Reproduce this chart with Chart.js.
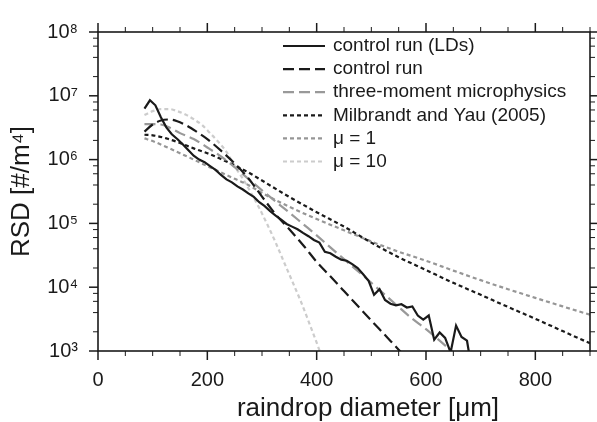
<!DOCTYPE html>
<html>
<head>
<meta charset="utf-8">
<script src="https://cdn.jsdelivr.net/npm/chart.js@4.4.0/dist/chart.umd.min.js"></script>
<style>
  html, body { margin: 0; padding: 0; background: #fff; }
</style>
</head>
<body>
<canvas id="myChart" width="597" height="422"></canvas>
<script>
// raindrop diameter [um] and RSD [#/m^4]
const ldsDiam = [85, 95, 105, 115, 125, 135, 145, 155, 165, 175, 185, 195, 205, 215, 225, 235, 245, 255, 265, 275,
  285, 295, 305, 315, 325, 335, 345, 355, 365, 375, 385, 395, 405, 415, 425, 435, 445, 455, 465, 475,
  485, 495, 505, 515, 525, 535, 545, 555, 565, 575, 585, 595, 605, 615, 625, 635, 645, 655, 665, 675, 680];
const ldsRsd = [6.3e6, 8.5e6, 7.1e6, 4.6e6, 3.2e6, 2.5e6, 2.1e6, 1.74e6, 1.41e6, 1.15e6, 1.0e6, 9.1e5, 7.9e5, 6.9e5, 5.75e5, 4.9e5, 4.4e5, 3.8e5, 3.4e5, 2.95e5,
  2.6e5, 2.15e5, 1.86e5, 1.55e5, 1.32e5, 1.15e5, 9.8e4, 8.9e4, 8.1e4, 7.1e4, 6.3e4, 5.5e4, 5.0e4, 3.6e4, 3.4e4, 3.0e4, 2.7e4, 2.6e4, 2.3e4, 2.0e4,
  1.6e4, 1.26e4, 7.6e3, 9.3e3, 6.3e3, 5.5e3, 5.2e3, 5.4e3, 4.8e3, 5.0e3, 3.6e3, 3.1e3, 3.6e3, 1.5e3, 1.95e3, 1.6e3, 9.5e2, 2.5e3, 1.66e3, 1.45e3, 8e2];

const ctrlDiam = [85, 100, 115, 130, 145, 160, 180, 200, 225, 250, 275, 300, 325, 350, 375, 400, 425, 450, 475, 500, 525, 550, 575];
const ctrlRsd = [2.75e6, 3.55e6, 4.1e6, 4.25e6, 4.0e6, 3.5e6, 2.75e6, 2.1e6, 1.38e6, 8.7e5, 5.1e5, 2.63e5, 1.38e5, 8.1e4, 4.6e4, 2.5e4, 1.48e4, 8.7e3, 5.1e3, 3.0e3, 1.78e3, 1.05e3, 6.3e2];

const threeDiam = [85, 100, 115, 130, 150, 175, 200, 225, 250, 275, 300, 325, 350, 375, 400, 425, 450, 475, 500, 525, 550, 575, 600, 625, 650];
const threeRsd = [3.6e6, 3.6e6, 3.55e6, 3.2e6, 2.6e6, 2.1e6, 1.55e6, 1.12e6, 7.6e5, 5.0e5, 3.3e5, 2.2e5, 1.48e5, 9.8e4, 6.5e4, 4.2e4, 2.75e4, 1.8e4, 1.17e4, 7.6e3, 4.9e3, 3.2e3, 2.2e3, 1.45e3, 9.5e2];

const myDiam = [85, 100, 125, 150, 175, 200, 225, 250, 275, 300, 350, 400, 450, 500, 550, 600, 650, 700, 750, 800, 850, 900];
const myRsd = [2.45e6, 2.4e6, 2.15e6, 1.82e6, 1.5e6, 1.26e6, 1.02e6, 8.1e5, 6.3e5, 4.7e5, 2.6e5, 1.5e5, 8.9e4, 5.0e4, 2.95e4, 1.86e4, 1.17e4, 7.6e3, 4.9e3, 3.2e3, 2.05e3, 1.32e3];

const mu1Diam = [85, 100, 125, 150, 175, 200, 225, 250, 275, 300, 350, 400, 450, 500, 550, 600, 650, 700, 750, 800, 850, 900];
const mu1Rsd = [2.15e6, 1.95e6, 1.58e6, 1.26e6, 1.0e6, 7.9e5, 6.3e5, 5.0e5, 4.0e5, 3.0e5, 1.82e5, 1.17e5, 7.8e4, 5.2e4, 3.6e4, 2.6e4, 1.82e4, 1.29e4, 9.3e3, 6.8e3, 5.0e3, 3.7e3];

const mu10Diam = [85, 100, 115, 130, 145, 160, 175, 190, 205, 220, 235, 250, 265, 280, 295, 310, 325, 340, 355, 370, 385, 400, 415];
const mu10Rsd = [5.0e6, 5.75e6, 6.2e6, 6.2e6, 5.75e6, 5.1e6, 4.3e6, 3.5e6, 2.6e6, 1.9e6, 1.32e6, 7.9e5, 5.0e5, 3.0e5, 1.74e5, 9.5e4, 5.0e4, 2.5e4, 1.26e4, 6.3e3, 2.95e3, 1.35e3, 6.0e2];

const xTickVals = [0, 200, 400, 600, 800];
const yExponents = [3, 4, 5, 6, 7, 8];
const seriesLabels = ['control run (LDs)', 'control run', 'three-moment microphysics', 'Milbrandt and Yau (2005)', 'μ = 1', 'μ = 10'];
const xTitle = 'raindrop diameter [μm]';

const FONT = "'Liberation Sans', Arial, Helvetica, sans-serif";
const sup = { 3: '³', 4: '⁴', 5: '⁵', 6: '⁶', 7: '⁷', 8: '⁸' };

function pts(xs, ys) {
  return xs.map((v, i) => ({ x: v, y: ys[i] }));
}

function line(label, xs, ys, color, dash, smooth) {
  return {
    label: label,
    data: pts(xs, ys),
    borderColor: color,
    borderWidth: 2.2,
    borderDash: dash,
    pointRadius: 0,
    fill: false,
    cubicInterpolationMode: smooth ? 'monotone' : 'default',
    tension: 0
  };
}

// legend inside the plot, top right, plus the x axis title (sits a bit right of centre)
const legendBox = {
  id: 'legendBox',
  afterDraw(chart) {
    const ctx = chart.ctx;
    ctx.save();
    chart.data.datasets.forEach((ds, i) => {
      const y = 46 + i * 23.1;
      ctx.strokeStyle = ds.borderColor;
      ctx.lineWidth = 2.2;
      ctx.setLineDash(ds.borderDash || []);
      ctx.beginPath();
      ctx.moveTo(283, y);
      ctx.lineTo(325, y);
      ctx.stroke();
      ctx.setLineDash([]);
      ctx.fillStyle = '#1a1a1a';
      ctx.font = '19px ' + FONT;
      ctx.textBaseline = 'middle';
      ctx.textAlign = 'left';
      ctx.fillText(ds.label, 333, y);
    });
    ctx.font = '26px ' + FONT;
    ctx.textAlign = 'center';
    ctx.textBaseline = 'middle';
    ctx.fillText(xTitle, 368, 409);
    ctx.restore();
  }
};

// box around the plot, with outward ticks on all four sides
const frameTicks = {
  id: 'frameTicks',
  afterDraw(chart) {
    const ctx = chart.ctx;
    const a = chart.chartArea;
    const x = chart.scales.x, y = chart.scales.y;
    ctx.save();
    ctx.strokeStyle = '#1a1a1a';
    const seg = (x1, y1, x2, y2, w) => {
      ctx.lineWidth = w;
      ctx.beginPath(); ctx.moveTo(x1, y1); ctx.lineTo(x2, y2); ctx.stroke();
    };
    for (let v = 0; v <= 900; v += 50) {
      const px = x.getPixelForValue(v);
      const major = v % 200 === 0;
      const len = major ? 9 : 5;
      seg(px, a.bottom, px, a.bottom + len, major ? 1.5 : 1);
      seg(px, a.top, px, a.top - len, major ? 1.5 : 1);
    }
    yExponents.forEach(e => {
      [1, 2, 4, 6, 8].forEach(m => {
        if (e === 8 && m > 1) return;
        const py = y.getPixelForValue(m * Math.pow(10, e));
        const major = m === 1;
        const len = major ? 9 : 5;
        seg(a.left, py, a.left - len, py, major ? 1.5 : 1);
        seg(a.right, py, a.right + len, py, major ? 1.5 : 1);
      });
    });
    ctx.lineWidth = 1.6;
    ctx.strokeRect(a.left, a.top, a.right - a.left, a.bottom - a.top);
    ctx.restore();
  }
};

const config = {
  type: 'line',
  data: {
    datasets: [
      line(seriesLabels[0], ldsDiam, ldsRsd, '#1a1a1a', [], false),
      line(seriesLabels[1], ctrlDiam, ctrlRsd, '#1a1a1a', [11, 5], true),
      line(seriesLabels[2], threeDiam, threeRsd, '#999999', [11, 5], true),
      line(seriesLabels[3], myDiam, myRsd, '#1a1a1a', [4, 3], true),
      line(seriesLabels[4], mu1Diam, mu1Rsd, '#969696', [4, 3], true),
      line(seriesLabels[5], mu10Diam, mu10Rsd, '#cccccc', [4, 3], true)
    ]
  },
  options: {
    responsive: false,
    animation: false,
    devicePixelRatio: 1,
    layout: { padding: { top: 23, right: 7, left: 0, bottom: 0 } },
    plugins: {
      legend: { display: false },
      tooltip: { enabled: false }
    },
    scales: {
      x: {
        type: 'linear',
        min: 0,
        max: 900,
        grid: { display: false, drawTicks: false },
        border: { display: false },
        afterBuildTicks: s => { s.ticks = xTickVals.map(v => ({ value: v })); },
        afterFit: s => { s.height = 71; },
        ticks: {
          autoSkip: false,
          maxRotation: 0,
          padding: 17,
          color: '#1a1a1a',
          font: { family: FONT, size: 20 }
        },
        title: { display: false }
      },
      y: {
        type: 'logarithmic',
        min: 1e3,
        max: 1e8,
        grid: { display: false, drawTicks: false },
        border: { display: false },
        afterBuildTicks: s => { s.ticks = yExponents.map(e => ({ value: Math.pow(10, e) })); },
        afterFit: s => { s.width = 98; },
        ticks: {
          autoSkip: false,
          padding: 20,
          color: '#1a1a1a',
          font: { family: FONT, size: 20 },
          callback: v => '10' + sup[Math.round(Math.log10(v))]
        },
        title: {
          display: true,
          text: 'RSD [#/m⁴]',
          color: '#1a1a1a',
          font: { family: FONT, size: 26, lineHeight: 1 },
          padding: { top: 9, bottom: 0 }
        }
      }
    }
  },
  plugins: [frameTicks, legendBox]
};

const myChart = new Chart(document.getElementById('myChart'), config);
</script>
</body>
</html>
